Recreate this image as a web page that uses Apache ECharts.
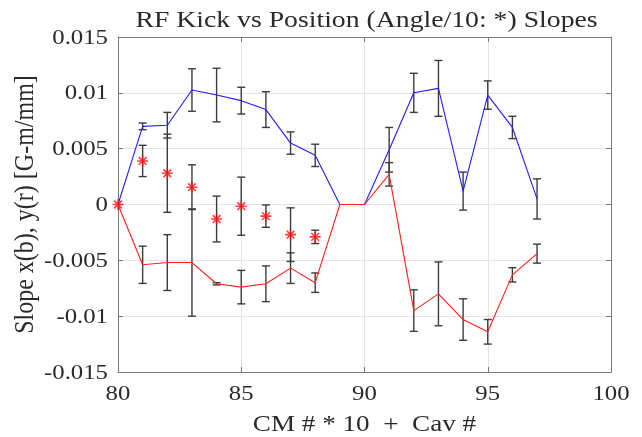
<!DOCTYPE html>
<html>
<head>
<meta charset="utf-8">
<title>RF Kick vs Position Slopes</title>
<script src="https://cdn.jsdelivr.net/npm/echarts@6/dist/echarts.min.js"></script>
<style>
  html, body { margin: 0; padding: 0; background: #ffffff; }
  #chart { width: 642px; height: 437px; }
</style>
</head>
<body>
<div id="chart"></div>
<script>
// Cavity position index: CM # * 10 + Cav #
const positions = [80, 81, 82, 83, 84, 85, 86, 87, 88, 89, 90, 91, 92, 93, 94, 95, 96, 97];

// x slopes (blue) and their error half-widths
const xSlope    = [0, 0.0070, 0.0071, 0.01025, 0.0098, 0.0093, 0.0085, 0.0055, 0.0044, 0, 0, 0.0049, 0.0100, 0.0104, 0.0012, 0.0098, 0.0069, 0.0005];
const xSlopeErr = [0, 0.0003, 0.00115, 0.0019, 0.0024, 0.0012, 0.0016, 0.0010, 0.0010, 0, 0, 0.0020, 0.00175, 0.0025, 0.0017, 0.00127, 0.0010, 0.0018];

// y slopes (red) and their error half-widths
const ySlope    = [0, -0.0054, -0.0052, -0.0052, -0.0071, -0.0074, -0.0071, -0.0057, -0.0070, 0, 0, 0.0027, -0.0095, -0.0080, -0.0103, -0.0114, -0.0063, -0.0044];
const ySlopeErr = [0, 0.00167, 0.0025, 0.0048, 0.0001, 0.0015, 0.0016, 0.00137, 0.00087, 0, 0, 0.00105, 0.00186, 0.00286, 0.00186, 0.0011, 0.00064, 0.00085];

// Angle/10 slopes (red asterisks), measured for cavities 80-88 only
const anglePositions = [80, 81, 82, 83, 84, 85, 86, 87, 88];
const angleSlope     = [0, 0.0039, 0.0028, 0.00155, -0.0013, -0.00015, -0.00104, -0.0027, -0.0029];
const angleSlopeErr  = [0, 0.0014, 0.0035, 0.0020, 0.00205, 0.0026, 0.0010, 0.0024, 0.0006];

// Axis ticks and labels
const xTicks = [80, 85, 90, 95, 100];
const yTicks = [-0.015, -0.01, -0.005, 0, 0.005, 0.01, 0.015];
const yTickLabels = ['-0.015', '-0.01', '-0.005', '0', '0.005', '0.01', '0.015'];

const titleText = 'RF Kick vs Position (Angle/10: *) Slopes';
const xName = 'CM # * 10  +  Cav #';
const yName = 'Slope x(b), y(r) [G-m/mm]';

const SERIF = '"Liberation Serif", "Times New Roman", serif';
const TEXT_COLOR = '#2a2a2a';
const STRETCH = 1.18;

function pairs(xs, ys) { return xs.map((x, i) => [x, ys[i]]); }
function errRows(xs, ys, es) {
  const rows = [];
  xs.forEach((x, i) => { if (es[i] > 0) rows.push([x, ys[i] - es[i], ys[i] + es[i]]); });
  return rows;
}

const errorData = [].concat(
  errRows(positions, xSlope, xSlopeErr),
  errRows(positions, ySlope, ySlopeErr),
  errRows(anglePositions, angleSlope, angleSlopeErr)
);

const boxLine = { show: true, onZero: false, lineStyle: { color: '#7a7a7a', width: 1 } };
const inTick = { show: true, inside: true, length: 5, lineStyle: { color: '#7a7a7a', width: 1 } };
const gridLine = { show: true, lineStyle: { color: '#e4e4e4', width: 1 } };

const chart = echarts.init(document.getElementById('chart'), null, { renderer: 'canvas' });

chart.setOption({
  animation: false,
  backgroundColor: '#ffffff',
  grid: { left: 118, top: 37, width: 493, height: 335, outerBoundsMode: 'none', containLabel: false },
  xAxis: [
    { type: 'value', min: 80, max: 100, interval: 5, position: 'bottom',
      axisLine: boxLine, axisTick: inTick, splitLine: gridLine, axisLabel: { show: false } },
    { type: 'value', min: 80, max: 100, interval: 5, position: 'top',
      axisLine: boxLine, axisTick: inTick, splitLine: { show: false }, axisLabel: { show: false } }
  ],
  yAxis: [
    { type: 'value', min: -0.015, max: 0.015, interval: 0.005, position: 'left',
      axisLine: boxLine, axisTick: inTick, splitLine: gridLine, axisLabel: { show: false } },
    { type: 'value', min: -0.015, max: 0.015, interval: 0.005, position: 'right',
      axisLine: boxLine, axisTick: inTick, splitLine: { show: false }, axisLabel: { show: false } }
  ],
  series: [
    {
      name: 'errors',
      type: 'custom',
      xAxisIndex: 0, yAxisIndex: 0,
      data: errorData,
      z: 2,
      renderItem: function (params, api) {
        const x = api.value(0);
        const top = api.coord([x, api.value(2)]);
        const bot = api.coord([x, api.value(1)]);
        const half = 4;
        const st = { stroke: '#3c3c3c', lineWidth: 1.4 };
        return {
          type: 'group',
          children: [
            { type: 'line', shape: { x1: top[0], y1: top[1], x2: bot[0], y2: bot[1] }, style: st },
            { type: 'line', shape: { x1: top[0] - half, y1: top[1], x2: top[0] + half, y2: top[1] }, style: st },
            { type: 'line', shape: { x1: bot[0] - half, y1: bot[1], x2: bot[0] + half, y2: bot[1] }, style: st }
          ]
        };
      }
    },
    {
      name: 'x(b)', type: 'line', data: pairs(positions, xSlope),
      symbol: 'none', z: 3,
      lineStyle: { color: '#1f1fff', width: 1.1 }
    },
    {
      name: 'y(r)', type: 'line', data: pairs(positions, ySlope),
      symbol: 'none', z: 3,
      lineStyle: { color: '#ff1f1f', width: 1.1 }
    },
    {
      name: 'Angle/10', type: 'scatter', data: pairs(anglePositions, angleSlope),
      symbol: 'path://M0,-10L0,10M-10,0L10,0M-7,-7L7,7M-7,7L7,-7',
      symbolSize: 11, z: 4,
      itemStyle: { color: 'rgba(0,0,0,0)', borderColor: '#ff1010', borderWidth: 1.6 }
    }
  ]
});

// Text drawn as graphic elements so it can be stretched horizontally
function textEl(text, x, y, size, align, vAlign, extra) {
  return Object.assign({
    type: 'text', x: x, y: y, scaleX: STRETCH, silent: true, z: 10,
    style: { text: text, font: size + 'px ' + SERIF, fill: TEXT_COLOR,
             textAlign: align, textVerticalAlign: vAlign }
  }, extra || {});
}

const graphics = [];
yTicks.forEach((v, i) => {
  const p = chart.convertToPixel({ gridIndex: 0 }, [80, v]);
  graphics.push(textEl(yTickLabels[i], 108, p[1] + 1, 21, 'right', 'middle'));
});
xTicks.forEach((v) => {
  const p = chart.convertToPixel({ gridIndex: 0 }, [v, -0.015]);
  graphics.push(textEl(String(v), p[0], p[1] + 22, 21, 'center', 'middle'));
});
const mid = chart.convertToPixel({ gridIndex: 0 }, [90, 0]);
graphics.push(textEl(titleText, mid[0] + 2, 21, 23.5, 'center', 'middle'));
graphics.push(textEl(xName, mid[0], 425, 23, 'center', 'middle'));
graphics.push(textEl(yName, 26, mid[1], 24, 'center', 'middle',
  { rotation: Math.PI / 2, scaleX: 1, scaleY: STRETCH }));

chart.setOption({ graphic: { elements: graphics } });
</script>
</body>
</html>
